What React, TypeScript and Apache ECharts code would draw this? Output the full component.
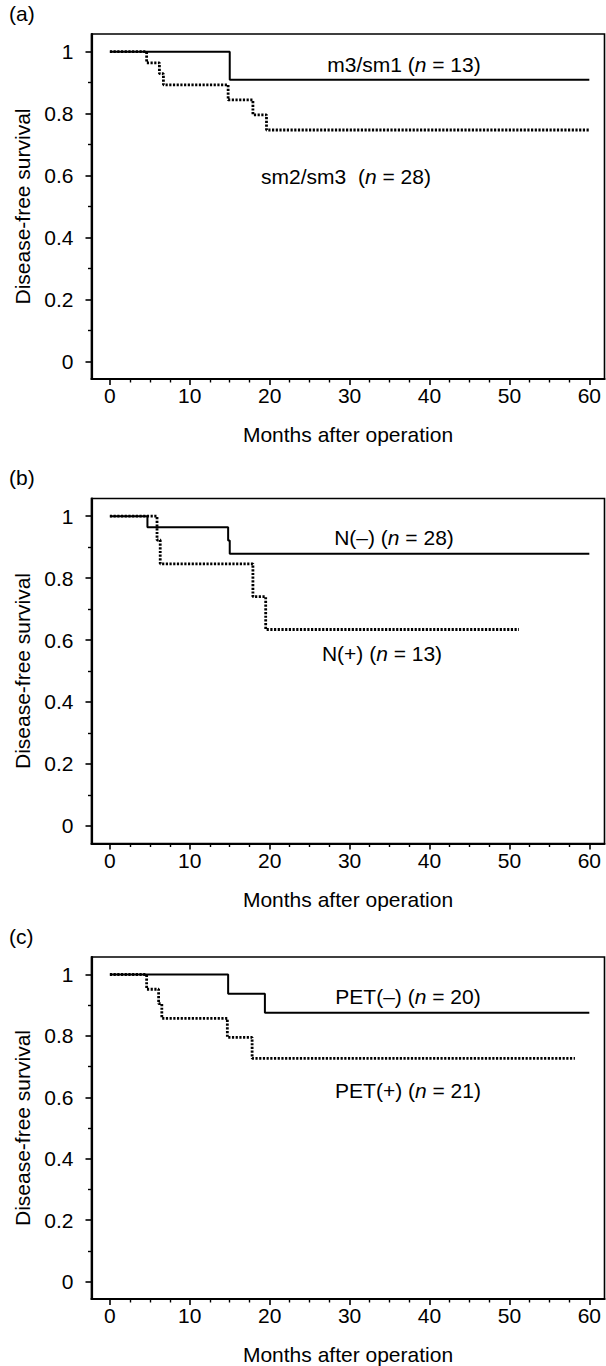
import React, { useEffect, useRef } from "react";
import * as echarts from "echarts";

const FONT = "Liberation Sans, Arial, Helvetica, sans-serif";

const X_MAJOR = [0, 10, 20, 30, 40, 50, 60];
const X_MINOR = [2.5, 5, 7.5, 12.5, 15, 17.5, 22.5, 25, 27.5, 32.5, 35, 37.5, 42.5, 45, 47.5, 52.5, 55, 57.5];
const Y_MAJOR = [0, 0.2, 0.4, 0.6, 0.8, 1];
const Y_MINOR = [0.1, 0.3, 0.5, 0.7, 0.9];

// Panel (a): depth of invasion
const aSolidT = [0, 15, 60];
const aSolidS = [1, 0.909, 0.909];
const aDotT = [0, 4.6, 6.2, 6.7, 14.8, 17.9, 19.6, 60];
const aDotS = [1, 0.964, 0.929, 0.893, 0.844, 0.796, 0.747, 0.747];

// Panel (b): nodal status
const bSolidT = [0, 4.7, 14.8, 15.0, 60];
const bSolidS = [1, 0.964, 0.921, 0.879, 0.879];
const bDotT = [0, 5.9, 6.3, 17.9, 19.5, 51.2];
const bDotS = [1, 0.923, 0.846, 0.74, 0.634, 0.634];

// Panel (c): PET
const cSolidT = [0, 14.8, 19.4, 60];
const cSolidS = [1, 0.9375, 0.875, 0.875];
const cDotT = [0, 4.6, 6.1, 6.5, 14.7, 17.8, 58.2];
const cDotS = [1, 0.952, 0.905, 0.857, 0.795, 0.727, 0.727];

const PANEL_TAGS = ["(a)", "(b)", "(c)"];
const SOLID_LABELS = [
  ["m3/sm1 (", "n", " = 13)"],
  ["N(–) (", "n", " = 28)"],
  ["PET(–) (", "n", " = 20)"],
];
const DOT_LABELS = [
  ["sm2/sm3  (", "n", " = 28)"],
  ["N(+) (", "n", " = 13)"],
  ["PET(+) (", "n", " = 21)"],
];
const X_TITLE = "Months after operation";
const Y_TITLE = "Disease-free survival";

const pairs = (t: number[], s: number[]) => t.map((x, i) => [x, s[i]]);

export default function App() {
  const ref = useRef<HTMLDivElement>(null);
  useEffect(() => {
    if (!ref.current) return;
    const chart = echarts.init(ref.current, null, { renderer: "svg" });
    const tops = [34, 498.5, 957];
    const gridH = 345;
    const curves = [
      [pairs(aSolidT, aSolidS), pairs(aDotT, aDotS)],
      [pairs(bSolidT, bSolidS), pairs(bDotT, bDotS)],
      [pairs(cSolidT, cSolidS), pairs(cDotT, cDotS)],
    ];
    const solidLabelPos = [
      [404, 64],
      [394, 537],
      [408, 996],
    ];
    const dotLabelPos = [
      [346, 176],
      [382, 653],
      [408, 1090],
    ];
    const tagY = [13, 477, 936];

    const grid: any[] = [];
    const xAxis: any[] = [];
    const yAxis: any[] = [];
    const series: any[] = [];
    const graphic: any[] = [];
    const txt = { color: "#000", fontFamily: FONT, fontSize: 21 };

    tops.forEach((top, i) => {
      grid.push({
        left: 91.5,
        top,
        width: 513,
        height: gridH,
        show: true,
        borderColor: "#000",
        borderWidth: 1.6,
        backgroundColor: "transparent",
      });
      xAxis.push({
        type: "value",
        gridIndex: i,
        position: "bottom",
        min: -2.3,
        max: 61.9,
        axisLine: { show: true, onZero: false, lineStyle: { color: "#000", width: 2.2 } },
        axisTick: { show: true, customValues: X_MAJOR, length: 6, lineStyle: { color: "#000", width: 1.6 } },
        axisLabel: { show: true, customValues: X_MAJOR, margin: 6, ...txt },
        splitLine: { show: false },
        name: X_TITLE,
        nameLocation: "middle",
        nameGap: 45,
        nameTextStyle: { ...txt },
      });
      xAxis.push({
        type: "value",
        gridIndex: i,
        position: "bottom",
        min: -2.3,
        max: 61.9,
        axisLine: { show: false, onZero: false },
        axisTick: { show: true, customValues: X_MINOR, length: 3.5, lineStyle: { color: "#000", width: 1.4 } },
        axisLabel: { show: false },
        splitLine: { show: false },
      });
      yAxis.push({
        type: "value",
        gridIndex: i,
        position: "left",
        min: -0.057,
        max: 1.057,
        axisLine: { show: true, onZero: false, lineStyle: { color: "#000", width: 2.2 } },
        axisTick: { show: true, customValues: Y_MAJOR, length: 6, lineStyle: { color: "#000", width: 1.6 } },
        axisLabel: {
          show: true,
          customValues: Y_MAJOR,
          margin: 18,
          formatter: (v: number) => String(Math.round(v * 10) / 10),
          ...txt,
        },
        splitLine: { show: false },
        name: Y_TITLE,
        nameLocation: "middle",
        nameRotate: 90,
        nameGap: 57,
        nameTextStyle: { ...txt },
      });
      yAxis.push({
        type: "value",
        gridIndex: i,
        position: "left",
        min: -0.057,
        max: 1.057,
        axisLine: { show: false, onZero: false },
        axisTick: { show: true, customValues: Y_MINOR, length: 3.5, lineStyle: { color: "#000", width: 1.4 } },
        axisLabel: { show: false },
        splitLine: { show: false },
      });
      series.push({
        type: "line",
        step: "end",
        xAxisIndex: 2 * i,
        yAxisIndex: 2 * i,
        data: curves[i][0],
        symbol: "none",
        lineStyle: { color: "#000", width: 2, type: "solid" },
        z: 3,
      });
      series.push({
        type: "line",
        step: "end",
        xAxisIndex: 2 * i,
        yAxisIndex: 2 * i,
        data: curves[i][1],
        symbol: "none",
        lineStyle: { color: "#000", width: 2.8, type: [2.2, 1.5] },
        z: 4,
      });
      const rich = {
        r: { ...txt },
        i: { ...txt, fontStyle: "italic" },
      };
      const mk = (parts: string[], pos: number[]) => ({
        type: "text",
        x: pos[0],
        y: pos[1],
        style: {
          text: `{r|${parts[0]}}{i|${parts[1]}}{r|${parts[2]}}`,
          rich,
          align: "center",
          verticalAlign: "middle",
          ...txt,
        },
      });
      graphic.push(mk(SOLID_LABELS[i], solidLabelPos[i]));
      graphic.push(mk(DOT_LABELS[i], dotLabelPos[i]));
      graphic.push({
        type: "text",
        x: 9,
        y: tagY[i],
        style: { text: PANEL_TAGS[i], align: "left", verticalAlign: "middle", ...txt },
      });
    });

    chart.setOption({
      animation: false,
      backgroundColor: "#fff",
      grid,
      xAxis,
      yAxis,
      series,
      graphic,
    });
    return () => chart.dispose();
  }, []);
  return (
    <div
      ref={ref}
      style={{ position: "absolute", left: 0, top: 0, width: 606, height: 1366 }}
    />
  );
}
